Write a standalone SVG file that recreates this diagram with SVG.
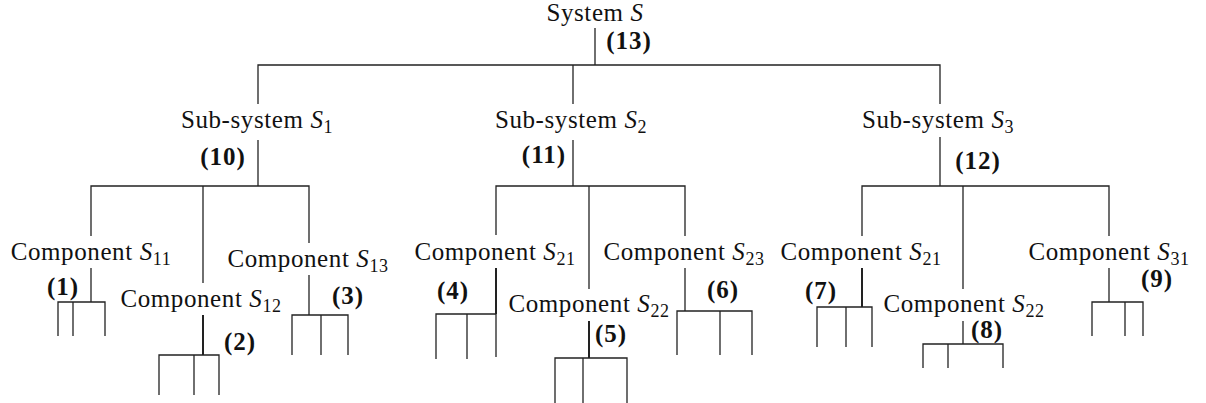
<svg xmlns="http://www.w3.org/2000/svg" width="1206" height="403" viewBox="0 0 1206 403">
<style>
text{font-family:"Liberation Serif","Times New Roman",serif;fill:#111;}
.lbl{font-size:25px;letter-spacing:0.6px;text-anchor:middle;}
.num{font-size:25px;font-weight:bold;letter-spacing:1px;text-anchor:middle;}
.it{font-style:italic;}
.sub{font-size:18px;}
.c path{fill:none;stroke:#222;stroke-width:1.3;}
.c path.b{stroke-width:2;}
</style>
<rect width="1206" height="403" fill="#fff"/>
<g id="connectors" class="c">
<path d="M595 28V65"/>
<path d="M258 104V65H940V104"/>
<path d="M573 65V104"/>
<path d="M258 140V186"/>
<path d="M91 236V186H309V243"/>
<path d="M203 186V283"/>
<path d="M573 140V186"/>
<path d="M496 235V186H685V236"/>
<path d="M589 186V289"/>
<path d="M940 137V186"/>
<path d="M862 236V186H1109V236"/>
<path d="M963 186V289"/>
<path d="M91 268V302"/>
<path d="M58 336V302H105V336"/>
<path d="M73 302V336"/>
<path class="b" d="M203 315V355"/>
<path d="M159 395V355H219V395"/>
<path d="M194 355V395"/>
<path d="M309 275V315"/>
<path d="M292 355V315H348V355"/>
<path d="M321 315V355"/>
<path class="b" d="M496 268V314"/>
<path d="M436 359V314H496V357"/>
<path d="M467 314V359"/>
<path class="b" d="M589 321V358"/>
<path d="M555 403V358H627V403"/>
<path d="M583 358V403"/>
<path d="M685 268V311"/>
<path d="M677 355V311H752V355"/>
<path d="M720 311V355"/>
<path class="b" d="M862 268V307"/>
<path d="M817 347V307H872V347"/>
<path d="M846 307V347"/>
<path d="M963 321V344"/>
<path d="M923 368V344H1003V368"/>
<path d="M948 344V368"/>
<path d="M1109 268V302"/>
<path d="M1092 336V302H1143V336"/>
<path d="M1125 302V336"/>
</g>
<g id="system-S">
<text class="lbl" x="595" y="21">System <tspan class="it">S</tspan></text>
<text class="num" x="629" y="49">(13)</text>
</g>
<g id="subsystem-S1">
<text class="lbl" x="257" y="128">Sub-system <tspan class="it">S</tspan><tspan class="sub" dy="5">1</tspan></text>
<text class="num" x="223" y="165">(10)</text>
</g>
<g id="subsystem-S2">
<text class="lbl" x="571" y="128">Sub-system <tspan class="it">S</tspan><tspan class="sub" dy="5">2</tspan></text>
<text class="num" x="544" y="163">(11)</text>
</g>
<g id="subsystem-S3">
<text class="lbl" x="938" y="128">Sub-system <tspan class="it">S</tspan><tspan class="sub" dy="5">3</tspan></text>
<text class="num" x="978" y="169">(12)</text>
</g>
<g id="component-S11">
<text class="lbl" x="91" y="260">Component <tspan class="it">S</tspan><tspan class="sub" dy="5">11</tspan></text>
<text class="num" x="63" y="295">(1)</text>
</g>
<g id="component-S12">
<text class="lbl" x="201" y="307">Component <tspan class="it">S</tspan><tspan class="sub" dy="5">12</tspan></text>
<text class="num" x="240" y="350">(2)</text>
</g>
<g id="component-S13">
<text class="lbl" x="308" y="267">Component <tspan class="it">S</tspan><tspan class="sub" dy="5">13</tspan></text>
<text class="num" x="348" y="304">(3)</text>
</g>
<g id="component-S21a">
<text class="lbl" x="495" y="260">Component <tspan class="it">S</tspan><tspan class="sub" dy="5">21</tspan></text>
<text class="num" x="453" y="299">(4)</text>
</g>
<g id="component-S22a">
<text class="lbl" x="589" y="312">Component <tspan class="it">S</tspan><tspan class="sub" dy="5">22</tspan></text>
<text class="num" x="611" y="342">(5)</text>
</g>
<g id="component-S23">
<text class="lbl" x="684" y="260">Component <tspan class="it">S</tspan><tspan class="sub" dy="5">23</tspan></text>
<text class="num" x="723" y="298">(6)</text>
</g>
<g id="component-S21b">
<text class="lbl" x="861" y="260">Component <tspan class="it">S</tspan><tspan class="sub" dy="5">21</tspan></text>
<text class="num" x="821" y="299">(7)</text>
</g>
<g id="component-S22b">
<text class="lbl" x="964" y="312">Component <tspan class="it">S</tspan><tspan class="sub" dy="5">22</tspan></text>
<text class="num" x="987" y="338">(8)</text>
</g>
<g id="component-S31">
<text class="lbl" x="1109" y="260">Component <tspan class="it">S</tspan><tspan class="sub" dy="5">31</tspan></text>
<text class="num" x="1157" y="287">(9)</text>
</g>
</svg>
